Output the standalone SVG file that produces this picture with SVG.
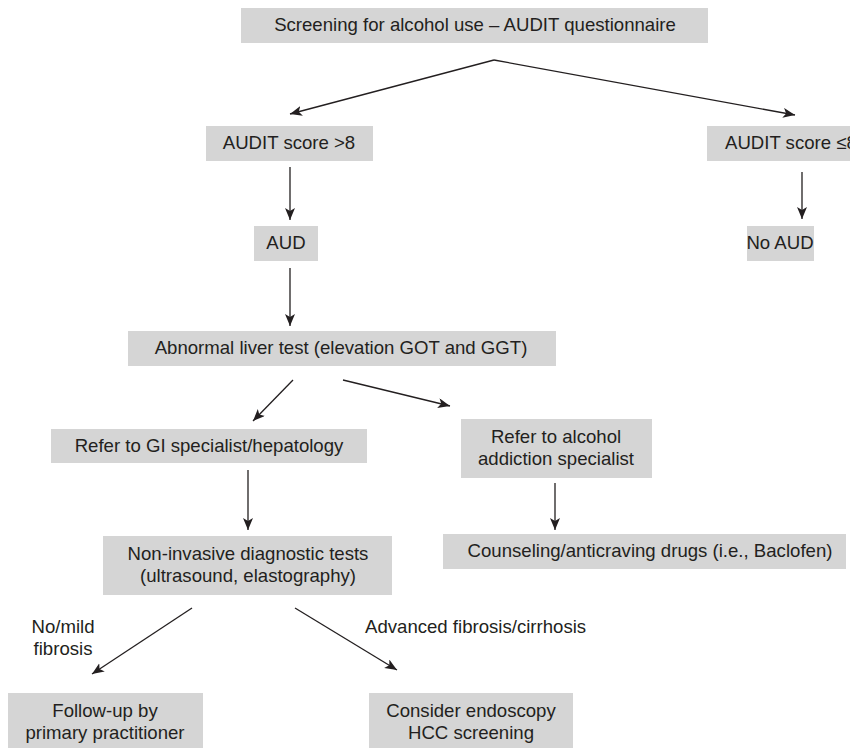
<svg xmlns="http://www.w3.org/2000/svg" width="850" height="748" viewBox="0 0 850 748">
<style>
.box{fill:#d5d5d5;stroke:none}
.t{font-family:"Liberation Sans",Arial,sans-serif;font-size:18.6px;fill:#231f20;text-anchor:middle}
.l{font-family:"Liberation Sans",Arial,sans-serif;font-size:18.6px;fill:#231f20}
.c{stroke:#231f20;stroke-width:1.3;fill:none;marker-end:url(#ah)}
</style>
<defs>
<marker id="ah" markerUnits="userSpaceOnUse" markerWidth="14" markerHeight="12" refX="12" refY="5" orient="auto">
<path d="M0,0 L12,5 L0,10 L3,5 z" fill="#231f20"/>
</marker>
</defs>
<rect width="850" height="748" fill="#ffffff"/>
<g id="connectors">
<line class="c" x1="494" y1="60" x2="290" y2="114"/>
<line class="c" x1="494" y1="60" x2="795" y2="115"/>
<line class="c" x1="290" y1="167" x2="290" y2="220"/>
<line class="c" x1="802" y1="172" x2="802" y2="219"/>
<line class="c" x1="290" y1="268" x2="290" y2="326"/>
<line class="c" x1="293" y1="380" x2="253" y2="421"/>
<line class="c" x1="343" y1="380" x2="450" y2="406"/>
<line class="c" x1="248" y1="470" x2="248" y2="530"/>
<line class="c" x1="555" y1="483" x2="555" y2="530"/>
<line class="c" x1="192" y1="608" x2="92" y2="674"/>
<line class="c" x1="295" y1="608" x2="397" y2="670"/>
</g>
<g id="n-screening">
<rect class="box" x="241" y="8" width="467" height="35"/>
<text class="t" x="475" y="31">Screening for alcohol use – AUDIT questionnaire</text>
</g>
<g id="n-audit-high">
<rect class="box" x="206" y="126" width="167" height="35"/>
<text class="t" x="289" y="149">AUDIT score &gt;8</text>
</g>
<g id="n-audit-low">
<rect class="box" x="707" y="126" width="170" height="35"/>
<text class="l" x="725" y="149">AUDIT score ≤8</text>
</g>
<g id="n-aud">
<rect class="box" x="254" y="226" width="64" height="35"/>
<text class="t" x="286" y="249">AUD</text>
</g>
<g id="n-no-aud">
<rect class="box" x="747" y="226" width="67" height="35"/>
<text class="t" x="780" y="249">No AUD</text>
</g>
<g id="n-abnormal">
<rect class="box" x="128" y="331" width="428" height="35"/>
<text class="t" x="341" y="354">Abnormal liver test (elevation GOT and GGT)</text>
</g>
<g id="n-gi">
<rect class="box" x="51" y="429" width="316" height="34"/>
<text class="t" x="209" y="452">Refer to GI specialist/hepatology</text>
</g>
<g id="n-addiction">
<rect class="box" x="461" y="419" width="191" height="59"/>
<text class="t" x="556" y="443">Refer to alcohol</text>
<text class="t" x="556" y="465">addiction specialist</text>
</g>
<g id="n-counseling">
<rect class="box" x="443" y="534" width="403" height="35"/>
<text class="t" x="650" y="557">Counseling/anticraving drugs (i.e., Baclofen)</text>
</g>
<g id="n-noninvasive">
<rect class="box" x="103" y="536" width="289" height="59"/>
<text class="t" x="248" y="560">Non-invasive diagnostic tests</text>
<text class="t" x="248" y="582">(ultrasound, elastography)</text>
</g>
<g id="lbl-mild">
<text class="t" x="63" y="633">No/mild</text>
<text class="t" x="63" y="655">fibrosis</text>
</g>
<g id="lbl-advanced">
<text class="l" x="365" y="633">Advanced fibrosis/cirrhosis</text>
</g>
<g id="n-followup">
<rect class="box" x="8" y="693" width="195" height="55"/>
<text class="t" x="105" y="717">Follow-up by</text>
<text class="t" x="105" y="739">primary practitioner</text>
</g>
<g id="n-endoscopy">
<rect class="box" x="369" y="693" width="204" height="55"/>
<text class="t" x="471" y="717">Consider endoscopy</text>
<text class="t" x="471" y="739">HCC screening</text>
</g>
</svg>
